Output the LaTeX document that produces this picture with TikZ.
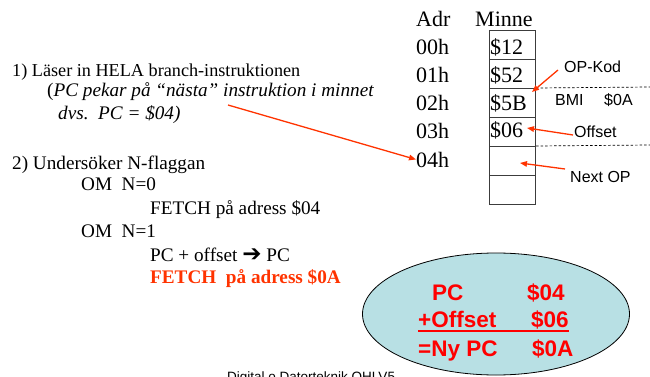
\documentclass[tikz,border=0pt]{standalone}
\usepackage{fontspec}
\setmainfont{Liberation Serif}
\setsansfont{Liberation Sans}
\newfontfamily\symfont{DejaVu Sans}
\usetikzlibrary{arrows.meta,shapes.geometric}
\definecolor{hotred}{RGB}{255,51,0}
\definecolor{sumred}{RGB}{255,0,0}
\definecolor{bubble}{RGB}{184,224,228}
\definecolor{cellline}{RGB}{60,60,60}
\tikzset{
  body/.style={anchor=base west,inner sep=0pt,font=\fontsize{19.2}{22}\selectfont},
  mem/.style={anchor=base west,inner sep=0pt,font=\fontsize{22}{26}\selectfont},
  tag/.style={anchor=base west,inner sep=0pt,font=\sffamily\fontsize{16}{19}\selectfont},
  sum/.style={anchor=base west,inner sep=0pt,text=sumred,font=\sffamily\bfseries\fontsize{22.5}{26}\selectfont},
  cell/.style={draw=cellline,line width=1.1pt,minimum width=46pt,minimum height=29pt,inner sep=0pt,anchor=north west},
  pointer/.style={draw=hotred,line width=1.3pt,-{Triangle[length=7pt,width=5.5pt]}},
  sep/.style={line width=0.7pt,dash pattern=on 2.5pt off 2pt}
}
\begin{document}
\begin{tikzpicture}[x=1pt,y=-1pt]
\useasboundingbox (0,0) rectangle (650,377);

% memory column
\node[mem] (hAdr) at (416,27) {Adr};
\node[mem] (hMinne) at (475,27) {Minne};
\foreach \i/\a in {0/00h,1/01h,2/02h,3/03h,4/04h}{
  \node[mem] (a\i) at (416,55+28*\i) {\a};
}
\foreach \i in {0,...,5}{
  \node[cell] (c\i) at (489,30+29*\i) {};
}
\node[mem] (v0) at (490,55) {\$12};
\node[mem] (v1) at (490,83) {\$52};
\node[mem] (v2) at (490,111) {\$5B};
\node[mem] (v3) at (490,138) {\$06};

% dashed separators around the branch instruction
\coordinate (d1) at (650,87);
\coordinate (d2) at (650,145);
\draw[sep] (c2.north east) -- (d1);
\draw[sep] (c4.north east) -- (d2);

% annotations
\node[tag] (opk) at (564,73) {OP-Kod};
\node[tag] (bmi) at (555,106) {BMI};
\node[tag] (bmiarg) at (604,106) {\$0A};
\node[tag] (offs) at (574,137) {Offset};
\node[tag] (nxt) at (570,182) {Next OP};
\coordinate (opkS) at (558,70);
\coordinate (opkE) at (532,92);
\coordinate (offS) at (573,135);
\coordinate (offE) at (527,128);
\coordinate (nxtS) at (565,169);
\coordinate (nxtE) at (520,163);
\draw[pointer] (opkS) -- (opkE);
\draw[pointer] (offS) -- (offE);
\draw[pointer] (nxtS) -- (nxtE);

% left-hand explanation
\node[body,font=\fontsize{18.2}{22}\selectfont] (l1) at (12,77) {1) Läser in HELA branch-instruktionen};
\node[body] (l2) at (47,97) {(\textit{PC pekar på “nästa” instruktion i minnet}};
\node[body] (l3) at (58,120) {\textit{dvs.\ \ PC = \$04)}};
\node[body] (l4) at (12,169) {2) Undersöker N-flaggan};
\node[body] (l5) at (81,190) {OM\ \ N=0};
\node[body] (l6) at (150,214) {FETCH på adress \$04};
\node[body] (l7) at (81,237) {OM\ \ N=1};
\node[body] (l8) at (150,261) {PC + offset {\symfont\fontsize{23}{24}\selectfont ➔} PC};
\node[body,text=hotred,font=\bfseries\fontsize{19.2}{22}\selectfont] (l9) at (150,283) {FETCH\ \ på adress \$0A};

\coordinate (pcS) at (228,105);
\draw[pointer] (pcS) -- (a4.west);

% address calculation
\node[draw=black,line width=0.8pt,fill=bubble,ellipse,minimum width=267pt,minimum height=122pt,inner sep=0pt] (calc) at (496,314) {};
\node[sum] (s1) at (432,300) {PC};
\node[sum] (s2) at (527,300) {\$04};
\node[sum] (s3) at (418,327) {+Offset};
\node[sum] (s4) at (531,327) {\$06};
\node[sum] (s5) at (418,356) {=Ny PC};
\node[sum] (s6) at (532,356) {\$0A};
\coordinate (ulA) at (418,331);
\coordinate (ulB) at (569,331);
\draw[sumred,line width=1.5pt] (ulA) -- (ulB);

% footer
\node[anchor=base west,inner sep=0pt,font=\sffamily\fontsize{13.5}{16}\selectfont] (foot) at (227,381) {Digital o Datorteknik OHLV5};
\end{tikzpicture}
\end{document}
